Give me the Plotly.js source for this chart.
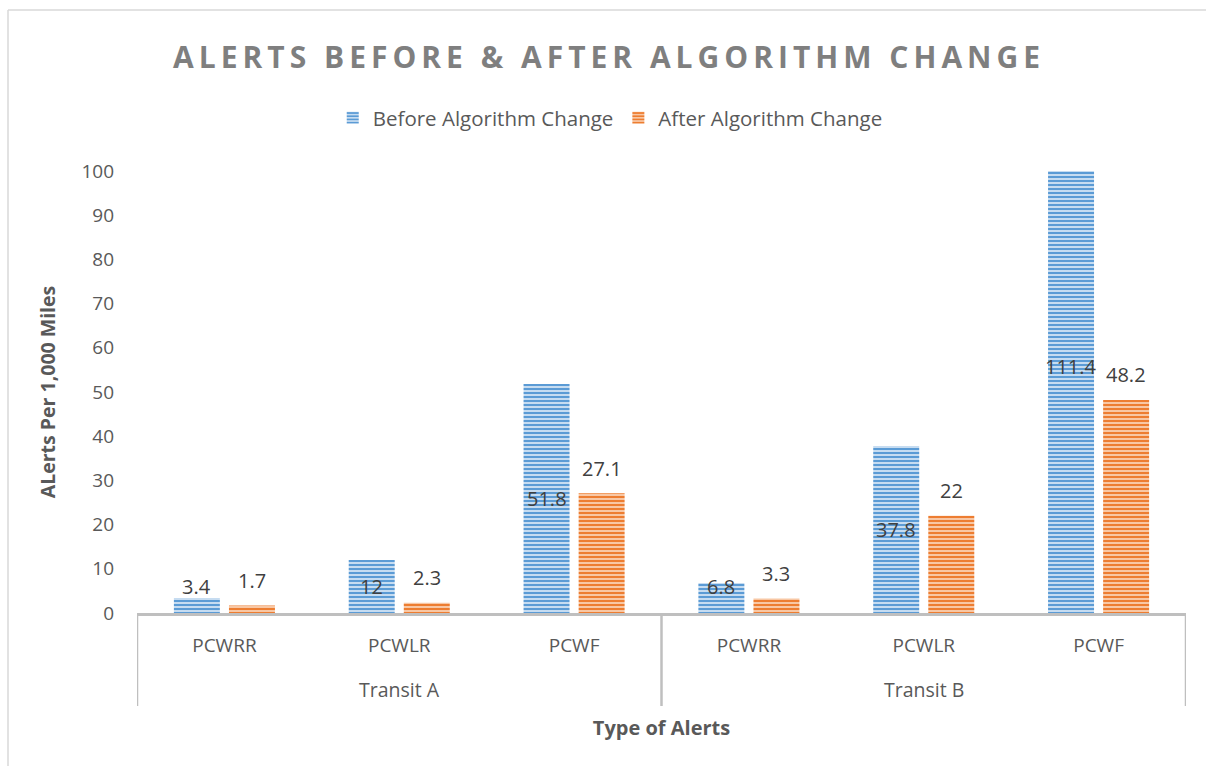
<!DOCTYPE html>
<html>
<head>
<meta charset="utf-8">
<script src="https://cdn.plot.ly/plotly-3.0.1.min.js"></script>
<style>
html,body{margin:0;padding:0;background:#fff;}
#chart{width:1206px;height:766px;}
</style>
</head>
<body>
<div id="chart"></div>
<script>
const transits = ['Transit A','Transit A','Transit A','Transit B','Transit B','Transit B'];
const alertTypes = ['PCWRR','PCWLR','PCWF','PCWRR','PCWLR','PCWF'];
const beforeValues = [3.4, 12, 51.8, 6.8, 37.8, 111.4];
const afterValues = [1.7, 2.3, 27.1, 3.3, 22, 48.2];
const seriesNames = ['Before Algorithm Change','After Algorithm Change'];

const FONT = 'Open Sans, Liberation Sans, sans-serif';
const TXT = '#595959';
const GRID = '#bfbfbf';

const idx = alertTypes.map((_, i) => i);

const traces = [
  {
    type:'bar', name:seriesNames[0], x:idx, y:beforeValues,
    marker:{color:'#a9cbec', line:{width:0},
      pattern:{shape:'-', fgcolor:'#5b9bd5', bgcolor:'#c6dcf1', size:4, solidity:0.5}},
    cliponaxis:true, hoverinfo:'y'
  },
  {
    type:'bar', name:seriesNames[1], x:idx, y:afterValues,
    marker:{color:'#f4b183', line:{width:0},
      pattern:{shape:'-', fgcolor:'#ed7d31', bgcolor:'#f8c7a4', size:4, solidity:0.5}},
    cliponaxis:true, hoverinfo:'y'
  }
];

const annotations = [];
beforeValues.forEach((v,i)=>{
  annotations.push({x:i-0.157, y:Math.max(v/2, 6), xref:'x', yref:'y', text:String(v),
    showarrow:false, font:{family:FONT, size:20, color:'#404040'}, yanchor:'middle'});
});
afterValues.forEach((v,i)=>{
  annotations.push({x:i+0.157, y:v, xref:'x', yref:'y', text:String(v), yshift:25,
    showarrow:false, font:{family:FONT, size:20, color:'#404040'}, yanchor:'middle'});
});

// group labels and dividers derived from the transit array
const groups = [];
transits.forEach((g,i)=>{
  const last = groups[groups.length-1];
  if (last && last.name === g) last.end = i; else groups.push({name:g, start:i, end:i});
});
const DIV_BOTTOM = -(706-613)/442;
const shapes = [];
groups.forEach((g,k)=>{
  annotations.push({x:(g.start+g.end)/2, y:0, xref:'x', yref:'paper', text:g.name, yshift:-76,
    showarrow:false, yanchor:'middle', font:{family:FONT, size:19.5, color:TXT}});
  if (k === 0) shapes.push({type:'line', xref:'x', yref:'paper', x0:g.start-0.5, x1:g.start-0.5, y0:0, y1:DIV_BOTTOM, line:{color:GRID, width:2.5}});
  shapes.push({type:'line', xref:'x', yref:'paper', x0:g.end+0.5, x1:g.end+0.5, y0:0, y1:DIV_BOTTOM, line:{color:GRID, width:2.5}});
});
// chart area border (top and left)
shapes.push({type:'line', xref:'paper', yref:'paper', x0:(8-137)/1049, x1:(1206-137)/1049, y0:(613-10)/442, y1:(613-10)/442, line:{color:'#d9d9d9', width:1.5}});
shapes.push({type:'line', xref:'paper', yref:'paper', x0:(8-137)/1049, x1:(8-137)/1049, y0:(613-10)/442, y1:(613-766)/442, line:{color:'#d9d9d9', width:1.5}});

const layout = {
  width:1206, height:766,
  margin:{l:137, r:20, t:171, b:153},
  paper_bgcolor:'#fff', plot_bgcolor:'#fff',
  font:{family:FONT, color:TXT},
  title:{text:'ALERTS BEFORE &amp; AFTER ALGORITHM CHANGE', xref:'container', x:0.505, xanchor:'center',
    yref:'container', y:1-57/766, yanchor:'middle',
    font:{family:FONT, size:30, color:'#7f7f7f', weight:700}},
  barmode:'group', bargap:0.37, bargroupgap:0.165,
  showlegend:true,
  legend:{orientation:'h', xref:'container', yref:'container', x:0.506, xanchor:'center', y:1-118/766, yanchor:'middle',
    font:{family:FONT, size:20.5, color:TXT}, traceorder:'normal'},
  xaxis:{type:'linear', range:[-0.5, alertTypes.length-0.5], tickvals:idx, ticktext:alertTypes,
    showline:true, linecolor:GRID, linewidth:2.5, ticks:'', showgrid:false, zeroline:false,
    ticklabelstandoff:14,
    tickfont:{family:FONT, size:19, color:TXT},
    title:{text:'Type of Alerts', font:{family:FONT, size:20, color:TXT, weight:700}, standoff:64}},
  yaxis:{range:[0,100], dtick:10, showgrid:false, zeroline:false, showline:false, ticks:'',
    ticklabelstandoff:22,
    tickfont:{family:FONT, size:19, color:TXT},
    title:{text:'ALerts Per 1,000 Miles', font:{family:FONT, size:19.5, color:TXT, weight:700}, standoff:20}},
  annotations:annotations,
  shapes:shapes
};

Plotly.newPlot('chart', traces, layout, {displayModeBar:false, staticPlot:true}).then(()=>{
  const t = document.querySelector('.gtitle');
  if (t) t.style.letterSpacing = '5px';
});
</script>
</body>
</html>
